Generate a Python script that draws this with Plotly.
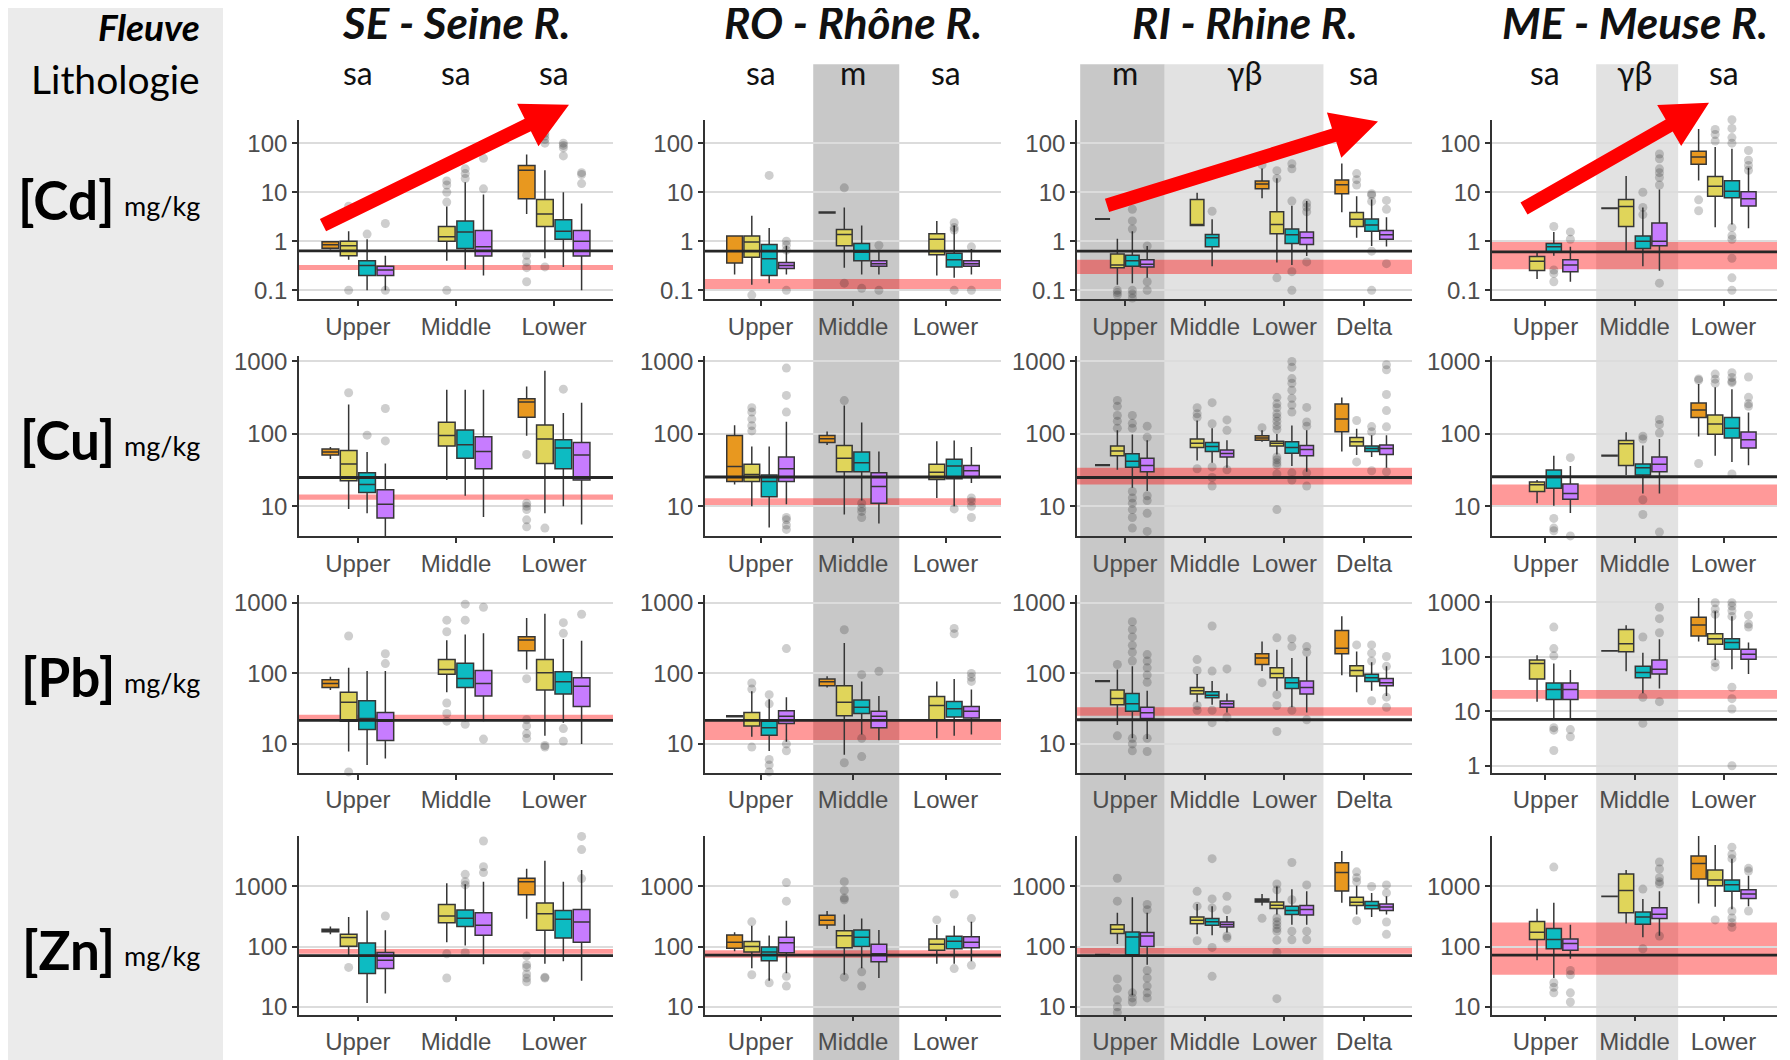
import plotly.graph_objects as go

W, H = 1790, 1060
OFF = 8  # the page body margin shifts the figure by this many pixels
FW, FH = W - OFF, H - OFF

# ---------------------------------------------------------------- data
RIVERS = ["SE - Seine R.", "RO - Rhône R.", "RI - Rhine R.", "ME - Meuse R."]
GROUPS_SE = ["Upper", "Middle", "Lower"]
GROUPS_RO = ["Upper", "Middle", "Lower"]
GROUPS_RI = ["Upper", "Middle", "Lower", "Delta"]
GROUPS_ME = ["Upper", "Middle", "Lower"]
ELEMENTS = ["[Cd]", "[Cu]", "[Pb]", "[Zn]"]
UNIT = "mg/kg"

# lithology label, centre position (category index)
LITHO_SE = [("sa", 0), ("sa", 1), ("sa", 2)]
LITHO_RO = [("sa", 0), ("m", 1), ("sa", 2)]
LITHO_RI = [("m", 0), ("γβ", 1.5), ("sa", 3)]
LITHO_ME = [("sa", 0), ("γβ", 1), ("sa", 2)]

# shaded lithology zones: (from, to, dark?)
ZONES_SE = []
ZONES_RO = [(0.57, 1.5, True)]
ZONES_RI = [(-0.56, 0.5, True), (0.5, 2.49, False)]
ZONES_ME = [(0.57, 1.49, False)]

# box records: (group, series, lower whisker, q1, median, q3, upper whisker, outliers)
SE_CD = [
    ("Upper", 0, 0.68, 0.72, 0.85, 0.98, 1.0, []),
    ("Upper", 1, 0.42, 0.51, 0.81, 1.0, 1.6, [0.1, 5.2]),
    ("Upper", 2, 0.1, 0.2, 0.32, 0.4, 1.1, [1.4]),
    ("Upper", 3, 0.1, 0.2, 0.26, 0.31, 0.51, [2.3, 0.1]),
    ("Middle", 1, 0.4, 1.0, 1.24, 2.0, 5.1, [17, 14, 10, 6.3, 0.1]),
    ("Middle", 2, 0.27, 0.71, 1.55, 2.6, 16, [30, 24, 19]),
    ("Middle", 3, 0.2, 0.5, 0.77, 1.66, 9, [11.7, 49]),
    ("Lower", 0, 3.6, 7.4, 28, 35, 59, [0.52, 0.38, 0.29, 0.15]),
    ("Lower", 1, 0.45, 2.0, 3.6, 7.1, 28, [100, 120, 140, 160, 0.3]),
    ("Lower", 2, 0.3, 1.1, 1.6, 2.75, 10, [100, 90, 80, 55]),
    ("Lower", 3, 0.1, 0.5, 1.0, 1.66, 5.9, [25, 23, 15]),
]
SE_CU = [
    ("Upper", 0, 45, 51, 56, 62, 66, []),
    ("Upper", 1, 9.2, 22.5, 38.5, 59, 254, [370]),
    ("Upper", 2, 8, 15.5, 20, 29, 56, [96]),
    ("Upper", 3, 2.6, 6.9, 10.7, 16.9, 39, [224, 80]),
    ("Middle", 1, 23, 68, 95, 145, 407, []),
    ("Middle", 2, 14, 46, 71, 113, 407, []),
    ("Middle", 3, 7.1, 33, 57, 91, 407, [1260]),
    ("Lower", 0, 94, 170, 276, 306, 450, [52, 11, 10, 9, 6.5, 5.2]),
    ("Lower", 1, 8, 39, 85, 133, 747, [5]),
    ("Lower", 2, 10, 33, 64, 83, 195, [415]),
    ("Lower", 3, 5.6, 23, 51, 76, 270, [1760]),
]
SE_PB = [
    ("Upper", 0, 58, 63, 72, 81, 90, []),
    ("Upper", 1, 7.8, 21, 39, 54, 120, [340, 4]),
    ("Upper", 2, 5, 16, 23, 41, 108, []),
    ("Upper", 3, 6.2, 11.2, 21, 28, 108, [190, 138]),
    ("Middle", 1, 54, 97, 114, 158, 295, [570, 390, 38, 27, 21]),
    ("Middle", 2, 21, 63, 85, 139, 357, [960, 570, 19]),
    ("Middle", 3, 21, 48, 72, 110, 370, [1480, 870, 11.7]),
    ("Lower", 0, 114, 209, 298, 332, 610, [84, 22, 18, 14, 12]),
    ("Lower", 1, 13, 58, 102, 158, 700, [1400, 9.5, 9]),
    ("Lower", 2, 20, 51, 76, 106, 307, [525, 370, 16.5, 10.9]),
    ("Lower", 3, 10, 34, 66, 87, 290, [690]),
]
SE_ZN = [
    ("Upper", 0, 160, 177, 186, 195, 215, []),
    ("Upper", 1, 69, 101, 142, 161, 310, [45]),
    ("Upper", 2, 11.5, 35.7, 71, 115, 400, []),
    ("Upper", 3, 16.6, 43, 59, 80, 187, [322]),
    ("Middle", 1, 118, 250, 322, 500, 1130, [76, 30]),
    ("Middle", 2, 104, 216, 295, 405, 1090, [1590, 1200, 1060, 80]),
    ("Middle", 3, 51, 155, 227, 366, 1200, [5700, 2130, 1700]),
    ("Lower", 0, 290, 730, 1200, 1370, 1970, [70, 50, 45, 35, 30, 26]),
    ("Lower", 1, 52, 187, 350, 533, 2670, [31, 30]),
    ("Lower", 2, 57, 139, 285, 400, 1200, []),
    ("Lower", 3, 27, 118, 257, 414, 1880, [9000, 6800, 4100, 1350]),
]

RO_CD = [
    ("Upper", 0, 0.21, 0.36, 0.63, 1.28, 1.28, []),
    ("Upper", 1, 0.13, 0.47, 0.97, 1.28, 3.3, [0.08]),
    ("Upper", 2, 0.14, 0.2, 0.44, 0.86, 1.86, [22]),
    ("Upper", 3, 0.21, 0.28, 0.32, 0.37, 0.81, [1.0, 0.83, 0.66, 0.1]),
    ("Middle", 0, 3.7, 3.75, 3.85, 3.95, 4.0, []),
    ("Middle", 1, 0.29, 0.81, 1.38, 1.74, 4.9, [12.3, 0.14]),
    ("Middle", 2, 0.21, 0.4, 0.6, 0.9, 2.1, [0.11]),
    ("Middle", 3, 0.21, 0.31, 0.35, 0.4, 0.66, [0.83, 0.1]),
    ("Lower", 1, 0.2, 0.53, 1.1, 1.42, 2.6, []),
    ("Lower", 2, 0.18, 0.3, 0.42, 0.57, 2.1, [2.4, 1.9, 1.7, 0.1]),
    ("Lower", 3, 0.21, 0.31, 0.35, 0.4, 0.7, [0.77, 0.1]),
]
RO_CU = [
    ("Upper", 0, 20, 22, 35.5, 95, 132, []),
    ("Upper", 1, 10, 22, 27.5, 38, 67, [230, 200, 160, 130, 110]),
    ("Upper", 2, 5.1, 13.6, 22, 27, 67, []),
    ("Upper", 3, 10.7, 22, 33, 48, 147, [810, 340, 200, 7, 6.5, 5.5, 4.8]),
    ("Middle", 0, 70, 76, 86, 95, 108, []),
    ("Middle", 1, 7.7, 30, 46, 69, 246, [288]),
    ("Middle", 2, 12, 30, 40, 56, 144, [11, 9.5, 8.5, 7]),
    ("Middle", 3, 5.8, 11, 18.7, 29, 57, []),
    ("Lower", 1, 13, 23.4, 29.6, 38, 79, []),
    ("Lower", 2, 10, 24, 36, 44.6, 81, [9.2]),
    ("Lower", 3, 21, 25, 31, 36.6, 66, [13, 11.7, 10, 7]),
]
RO_PB = [
    ("Upper", 0, 24, 24.2, 24.6, 25, 25.2, []),
    ("Upper", 1, 12.6, 18, 22, 28, 56, [73, 60, 9]),
    ("Upper", 2, 7.9, 13.3, 17, 21, 43, [50, 37, 6, 5, 4]),
    ("Upper", 3, 10.7, 19.5, 24.6, 29.5, 46, [225, 10, 8]),
    ("Middle", 0, 63, 67, 76, 83, 91, []),
    ("Middle", 1, 7, 25, 39, 67, 270, [417, 5.4]),
    ("Middle", 2, 13.6, 27, 33, 42, 77, [96, 12, 6.6]),
    ("Middle", 3, 11.3, 17, 24.6, 29, 48, [107]),
    ("Lower", 1, 12, 22, 35, 47, 77, []),
    ("Lower", 2, 13, 24, 31.5, 40, 83, [435, 365]),
    ("Lower", 3, 13.6, 23.4, 29, 34, 59, [100, 88, 77]),
]
RO_ZN = [
    ("Upper", 0, 84, 94, 118, 156, 173, []),
    ("Upper", 1, 43.6, 81, 100, 121, 222, [258, 34]),
    ("Upper", 2, 27, 58, 81, 98, 153, [25]),
    ("Upper", 3, 36, 79, 116, 143, 268, [1160, 570, 32, 22]),
    ("Middle", 0, 196, 228, 275, 331, 390, []),
    ("Middle", 1, 34, 96, 152, 183, 340, [1200, 860, 640, 600, 31]),
    ("Middle", 2, 43.6, 100, 143, 188, 292, [38, 22]),
    ("Middle", 3, 30, 56, 76, 109, 188, []),
    ("Lower", 1, 52, 87, 109, 134, 228, [278]),
    ("Lower", 2, 52, 92, 123, 149, 222, [750, 43]),
    ("Lower", 3, 57, 96, 118, 146, 258, [292, 49]),
]

RI_CD = [
    ("Upper", 0, 2.8, 2.8, 2.84, 2.88, 2.88, []),
    ("Upper", 1, 0.13, 0.29, 0.33, 0.55, 1.13, [0.1, 0.09, 0.08]),
    ("Upper", 2, 0.14, 0.31, 0.4, 0.52, 1.6, [7.7, 4.5, 2.6, 1.78, 0.1, 0.085, 0.07]),
    ("Upper", 3, 0.18, 0.3, 0.34, 0.42, 0.8, [0.8, 0.15, 0.1]),
    ("Middle", 1, 2.1, 2.1, 2.2, 7.1, 9.7, []),
    ("Middle", 2, 0.31, 0.77, 1.18, 1.38, 2.8, [4.1]),
    ("Lower", 0, 7.5, 11.8, 14.7, 17, 30.6, [36]),
    ("Lower", 1, 0.37, 1.42, 2.2, 4.0, 19.3, [27.5, 19, 0.18]),
    ("Lower", 2, 0.33, 0.9, 1.36, 1.78, 5.3, [38, 30, 6.6, 0.24, 0.1]),
    ("Lower", 3, 0.5, 0.86, 1.18, 1.54, 6.6, [6, 5, 4, 0.38]),
    ("Delta", 0, 3.9, 9.3, 14.2, 17.8, 38.6, []),
    ("Delta", 1, 1.18, 2.0, 2.8, 3.86, 8.3, [24, 18, 14]),
    ("Delta", 2, 0.8, 1.6, 2.15, 2.84, 7.1, [9.3, 8.7, 6.5, 0.63, 0.1]),
    ("Delta", 3, 0.78, 1.1, 1.36, 1.66, 3.1, [6.8, 4.5, 0.35]),
]
RI_CU = [
    ("Upper", 0, 36, 36.5, 37, 37.5, 38, []),
    ("Upper", 1, 32, 50, 58, 68, 112, [290, 240, 180, 150, 120]),
    ("Upper", 2, 18, 34.5, 42, 53, 98, [180, 140, 120, 16, 13, 11, 9, 7, 5]),
    ("Upper", 3, 16.3, 30, 36.5, 46, 82, [128, 90, 14, 12, 8, 4.5]),
    ("Middle", 1, 43, 65, 74, 85, 153, [230, 190, 170, 33]),
    ("Middle", 2, 40, 57, 66.7, 76, 120, [270, 138, 35, 25, 19]),
    ("Middle", 3, 34, 48, 53.5, 60, 82, [156, 112, 32]),
    ("Lower", 0, 78, 82, 88, 94, 112, [122]),
    ("Lower", 1, 52, 68, 74, 79, 100, [320, 260, 230, 190, 170, 150, 130, 115, 48, 44, 40, 37, 28, 9]),
    ("Lower", 2, 36, 54, 65, 78, 131, [1000, 830, 580, 500, 400, 310, 250, 200, 29, 23]),
    ("Lower", 3, 30, 50, 61, 69, 112, [232, 146, 128, 29, 19]),
    ("Delta", 0, 57, 107, 161, 258, 318, []),
    ("Delta", 1, 51, 68, 78, 89, 118, [153, 41]),
    ("Delta", 2, 48, 57, 63, 68, 96, [126, 107, 31]),
    ("Delta", 3, 34, 52, 63, 70, 96, [900, 770, 350, 210, 125, 30]),
]
RI_PB = [
    ("Upper", 0, 76, 77, 78, 79, 80, []),
    ("Upper", 1, 18.5, 36, 44, 58, 114, [134, 13]),
    ("Upper", 2, 12, 29, 37, 52, 126, [540, 420, 330, 250, 200, 150, 12, 10, 8]),
    ("Upper", 3, 11.7, 23, 27.7, 33, 57, [185, 150, 120, 95, 75, 12, 7.8]),
    ("Middle", 1, 39, 51, 57, 63, 98, [157, 110, 35, 30]),
    ("Middle", 2, 36, 45, 49, 55, 78, [470, 108, 30, 20]),
    ("Middle", 3, 28, 33, 37, 40.5, 52, [116, 24]),
    ("Lower", 0, 108, 134, 166, 190, 283, [74]),
    ("Lower", 1, 57, 87, 100, 120, 216, [320, 50, 35, 15]),
    ("Lower", 2, 33, 61, 74, 87, 166, [310, 240, 30]),
    ("Lower", 3, 28, 51, 63, 78, 174, [240, 200, 22]),
    ("Delta", 0, 94, 190, 228, 407, 650, []),
    ("Delta", 1, 54, 92, 110, 129, 205, [254]),
    ("Delta", 2, 57, 77, 87, 97, 144, [254, 194, 150, 41]),
    ("Delta", 3, 48, 67, 74, 85, 126, [174, 126, 46, 33]),
]
RI_ZN = [
    ("Upper", 0, 72, 72.5, 73, 73.5, 74, []),
    ("Upper", 1, 110, 165, 194, 231, 365, [1370, 570, 29, 20, 13, 10, 8]),
    ("Upper", 2, 15.5, 73, 145, 175, 660, [17, 14, 12]),
    ("Upper", 3, 50, 100, 150, 171, 365, [500, 410, 40, 30, 22, 17, 14]),
    ("Middle", 1, 160, 240, 273, 310, 512, [830, 470, 125]),
    ("Middle", 2, 155, 226, 258, 294, 470, [2900, 620, 440, 97, 32]),
    ("Middle", 3, 171, 212, 234, 256, 322, [685, 410, 150, 138]),
    ("Lower", 0, 480, 550, 585, 620, 750, [295]),
    ("Lower", 1, 340, 430, 487, 550, 1000, [1100, 880, 300, 260, 230, 200, 180, 128, 80, 13.6]),
    ("Lower", 2, 230, 343, 400, 470, 900, [2500, 600, 180, 130]),
    ("Lower", 3, 230, 334, 414, 480, 830, [1060, 180, 130]),
    ("Delta", 0, 535, 840, 1700, 2480, 3900, []),
    ("Delta", 1, 343, 480, 545, 660, 1025, [1750, 1400, 1200, 270]),
    ("Delta", 2, 310, 425, 480, 560, 780, [1000]),
    ("Delta", 3, 343, 400, 457, 512, 685, [1060, 780, 256, 160]),
]

ME_CD = [
    ("Upper", 1, 0.17, 0.255, 0.39, 0.49, 0.6, []),
    ("Upper", 2, 0.51, 0.61, 0.77, 0.9, 1.54, [2.0, 0.26, 0.22, 0.15]),
    ("Upper", 3, 0.15, 0.24, 0.33, 0.42, 0.77, [1.55, 1.1]),
    ("Middle", 0, 4.6, 4.65, 4.7, 4.75, 4.8, []),
    ("Middle", 1, 0.64, 2.0, 5.1, 7.1, 21.5, []),
    ("Middle", 2, 0.31, 0.71, 1.0, 1.28, 4.9, [10, 4.9, 3.5]),
    ("Middle", 3, 0.25, 0.81, 1.0, 2.36, 11.3, [60, 48, 30, 25, 20, 14, 0.14]),
    ("Lower", 0, 17.4, 37, 52.5, 68, 194, [7, 4.2]),
    ("Lower", 1, 1.94, 8.3, 13.2, 21, 83, [710, 190, 150, 110]),
    ("Lower", 2, 2.2, 7.7, 10.5, 17.1, 77, [450, 300, 200, 130, 100, 1.9, 1.3, 1.1, 0.45, 0.18, 0.1]),
    ("Lower", 3, 1.85, 5.25, 7.4, 10.2, 31.6, [71, 45, 35, 28]),
]
ME_CU = [
    ("Upper", 1, 11, 16, 19.9, 21.7, 23, []),
    ("Upper", 2, 10.2, 17.8, 25, 31.6, 50, [6.8, 5, 4.6]),
    ("Upper", 3, 8.1, 12.5, 15, 20.4, 36, [47, 3.9]),
    ("Middle", 0, 49, 49.5, 50, 50.5, 51, []),
    ("Middle", 1, 27, 36.6, 73, 81, 105, []),
    ("Middle", 2, 15, 27, 34, 38.5, 69, [93, 85, 12.3, 7.7]),
    ("Middle", 3, 15, 30, 38, 48, 85, [158, 135, 103, 4.4]),
    ("Lower", 0, 92, 169, 213, 268, 490, [575, 550, 39]),
    ("Lower", 1, 50, 99, 137, 182, 440, [670, 570, 500]),
    ("Lower", 2, 41, 88, 120, 169, 412, [700, 600, 530, 510, 28]),
    ("Lower", 3, 37, 64, 83, 106, 197, [610, 320, 260, 240]),
]
ME_PB = [
    ("Upper", 1, 15, 39, 75, 87, 107, []),
    ("Upper", 2, 7.3, 16.4, 25, 33, 75, [350, 141, 104, 5, 4.5, 1.9]),
    ("Upper", 3, 7.1, 16.4, 25, 33, 57, [4.6, 3.4]),
    ("Middle", 0, 126, 127, 128, 129, 130, []),
    ("Middle", 1, 54, 123, 174, 318, 380, []),
    ("Middle", 2, 21.4, 41, 51.6, 66.7, 119, [230, 18, 6]),
    ("Middle", 3, 26, 48, 59, 87, 209, [810, 500, 276, 15]),
    ("Lower", 0, 190, 240, 381, 533, 1200, []),
    ("Lower", 1, 87, 169, 215, 265, 686, [980, 750, 600, 78, 65]),
    ("Lower", 2, 59, 137, 182, 215, 555, [980, 850, 700, 550, 27.5, 17, 11, 1]),
    ("Lower", 3, 48, 90, 111, 137, 182, [580, 400, 350]),
]
ME_ZN = [
    ("Upper", 1, 59, 131, 173, 261, 426, []),
    ("Upper", 2, 30, 92, 131, 200, 535, [2100, 25, 21, 17]),
    ("Upper", 3, 63, 87, 112, 134, 230, [40, 34, 17, 12]),
    ("Middle", 0, 680, 683, 686, 690, 693, []),
    ("Middle", 1, 242, 366, 860, 1610, 1870, []),
    ("Middle", 2, 143, 236, 311, 376, 620, [905, 92]),
    ("Middle", 3, 152, 292, 344, 442, 830, [2550, 1950, 1400, 1200, 1100, 150]),
    ("Lower", 0, 520, 1335, 2400, 3220, 10500, []),
    ("Lower", 1, 460, 1025, 1285, 1870, 4900, [8950, 278]),
    ("Lower", 2, 416, 830, 1065, 1285, 2900, [4500, 3400, 2900, 390, 300, 250, 210]),
    ("Lower", 3, 470, 630, 750, 880, 1510, [2000, 1800, 390]),
]

# reference values per row: (black line, red band low, red band high)
REF_SE = [(0.64, 0.26, 0.33), (25, 12.3, 14.5), (21.5, 22, 26), (71, 76, 91)]
REF_RO = [(0.63, 0.1, 0.17), (25.4, 10, 12.9), (21.5, 11.4, 21.5), (72, 65, 87)]
REF_RI = [(0.63, 0.215, 0.42), (25, 20, 34), (22, 25, 33), (71, 76, 100)]
REF_ME = [(0.61, 0.27, 1.0), (25.6, 10, 20), (7.1, 17, 24.5), (72, 34, 252)]

# ---------------------------------------------------------------- style / layout
COLORS = ["#E8981F", "#E0D55A", "#0DBBC2", "#C77CFF"]
OFFSETS = [-0.28, -0.094, 0.094, 0.28]
BOX_W = 0.17

COL_PX = [(299, 613), (705, 1001), (1077, 1412), (1492, 1777)]
ROW_PX = [(113, 295), (353, 535), (595, 775), (839, 1020)]
Y_RANGE = [[-1.18, 2.48], [0.59, 3.07], [0.59, 3.11], [0.87, 3.84]]
Y_TICKS = [[0.1, 1, 10, 100], [10, 100, 1000], [10, 100, 1000], [10, 100, 1000]]

columns = [
    (GROUPS_SE, LITHO_SE, ZONES_SE, [SE_CD, SE_CU, SE_PB, SE_ZN], REF_SE),
    (GROUPS_RO, LITHO_RO, ZONES_RO, [RO_CD, RO_CU, RO_PB, RO_ZN], REF_RO),
    (GROUPS_RI, LITHO_RI, ZONES_RI, [RI_CD, RI_CU, RI_PB, RI_ZN], REF_RI),
    (GROUPS_ME, LITHO_ME, ZONES_ME, [ME_CD, ME_CU, ME_PB, ME_ZN], REF_ME),
]

TICK_FONT = dict(family="Liberation Sans, Arial, sans-serif", size=24, color="#4d4d4d")
LABEL_FONT = "Lato, Open Sans, sans-serif"


def fx(x):
    return (x - OFF) / FW


def fy(y):
    return 1 - (y - OFF) / FH


def arrow_path(x0, y0, x1, y1, w=7, hl=46, hw=24):
    dx, dy = x1 - x0, y1 - y0
    n = (dx * dx + dy * dy) ** 0.5
    ux, uy = dx / n, dy / n
    nx, ny = -uy, ux
    bx, by = x1 - ux * hl, y1 - uy * hl
    pts = [(x0 + nx * w, y0 + ny * w), (bx + nx * w, by + ny * w),
           (bx + nx * hw, by + ny * hw), (x1, y1),
           (bx - nx * hw, by - ny * hw), (bx - nx * w, by - ny * w),
           (x0 - nx * w, y0 - ny * w)]
    return "M " + " L ".join(f"{fx(a):.5f},{fy(b):.5f}" for a, b in pts) + " Z"


# red trend arrows (tail x, tail y, tip x, tip y) in pixels
ARROWS = [(323, 220, 569, 98), (1107, 200, 1378, 115), (1524, 203, 1709, 96)]

fig = go.Figure()
shapes = []
annotations = []
layout = {}

# left label panel
shapes.append(dict(type="rect", xref="paper", yref="paper", x0=-0.01, x1=fx(223), y0=-0.01, y1=1.01,
                   fillcolor="#ebebeb", line_width=0, layer="below"))

for c, (groups, litho, zones, panels, refs) in enumerate(columns):
    gidx = {g: i for i, g in enumerate(groups)}
    xr = [-0.6, len(groups) - 0.4]
    top_ref = "x" if c == 0 else f"x{c + 1}"

    for lo, hi, dark in zones:
        shapes.append(dict(type="rect", xref=top_ref, yref="paper", x0=lo, x1=hi,
                           y0=-0.01, y1=fy(57), fillcolor="#c8c8c8" if dark else "#e2e2e2",
                           line_width=0, layer="below"))
    for txt, pos in litho:
        annotations.append(dict(text=txt, x=pos, xref=top_ref, y=fy(65), yref="paper",
                                xanchor="center", yanchor="middle", showarrow=False,
                                font=dict(family=LABEL_FONT, size=32, color="#111")))
    cx = (COL_PX[c][0] + COL_PX[c][1]) / 2
    annotations.append(dict(text=f"<b><i>{RIVERS[c]}</i></b>", x=fx(cx), y=fy(14),
                            xref="paper", yref="paper", xanchor="center", yanchor="middle",
                            showarrow=False,
                            font=dict(family=LABEL_FONT, size=44, color="#111")))

    for r in range(4):
        p = r * 4 + c + 1
        xa = "xaxis" if p == 1 else f"xaxis{p}"
        ya = "yaxis" if p == 1 else f"yaxis{p}"
        xs = "x" if p == 1 else f"x{p}"
        ys = "y" if p == 1 else f"y{p}"
        yrng = Y_RANGE[r]
        yt = Y_TICKS[r]
        if c == 3 and r == 2:
            yrng = [-0.13, 3.13]
            yt = [1, 10, 100, 1000]

        layout[xa] = dict(domain=[fx(COL_PX[c][0]), fx(COL_PX[c][1])], range=xr, anchor=ys,
                          tickvals=list(range(len(groups))), ticktext=groups,
                          showline=True, linecolor="#333", linewidth=1.6, ticks="outside",
                          ticklen=5, tickwidth=1.6, tickcolor="#333", showgrid=False,
                          zeroline=False, tickfont=TICK_FONT, fixedrange=True)
        layout[ya] = dict(domain=[fy(ROW_PX[r][1]), fy(ROW_PX[r][0])], type="log",
                          range=yrng, anchor=xs, tickvals=yt, ticktext=[f"{v:g}" for v in yt],
                          showline=True, linecolor="#333", linewidth=1.6, ticks="outside",
                          ticklen=5, tickwidth=1.6, tickcolor="#333", showgrid=True,
                          gridcolor="#dcdcdc", gridwidth=1.5, zeroline=False,
                          tickfont=TICK_FONT, fixedrange=True)

        ox, oy = [], []
        for g, s, lo_w, q1, med, q3, hi_w, outs in panels[r]:
            xpos = gidx[g] + OFFSETS[s]
            fig.add_trace(go.Box(x=[xpos], q1=[q1], median=[med], q3=[q3],
                                 lowerfence=[lo_w], upperfence=[hi_w], width=BOX_W,
                                 fillcolor=COLORS[s], line=dict(color="#363636", width=1.5),
                                 whiskerwidth=0, boxpoints=False, showlegend=False,
                                 hoverinfo="skip", xaxis=xs, yaxis=ys))
            for v in outs:
                ox.append(xpos)
                oy.append(v)
        fig.add_trace(go.Scatter(x=ox, y=oy, mode="markers", cliponaxis=False,
                                 marker=dict(size=9, color="rgba(30,30,30,0.22)", line_width=0),
                                 showlegend=False, hoverinfo="skip", xaxis=xs, yaxis=ys))

        black, b_lo, b_hi = refs[r]
        shapes.append(dict(type="rect", xref=xs, yref=ys, x0=xr[0], x1=xr[1],
                           y0=b_lo, y1=b_hi, fillcolor="rgba(255,0,0,0.4)", line_width=0,
                           layer="below"))
        shapes.append(dict(type="line", xref=xs, yref=ys, x0=xr[0], x1=xr[1],
                           y0=black, y1=black, line=dict(color="#262626", width=2.8),
                           layer="above"))

# row labels
ROW_Y = [194, 437, 677, 954]
for r, el in enumerate(ELEMENTS):
    annotations.append(dict(text=f"<b>{el}</b>", x=fx(117), y=fy(ROW_Y[r]),
                            xref="paper", yref="paper", xanchor="right", yanchor="middle",
                            showarrow=False, font=dict(family=LABEL_FONT, size=53, color="#000")))
    annotations.append(dict(text=UNIT, x=fx(202), y=fy(ROW_Y[r] + 6),
                            xref="paper", yref="paper", xanchor="right", yanchor="middle",
                            showarrow=False, font=dict(family=LABEL_FONT, size=27, color="#000")))
annotations.append(dict(text="<b><i>Fleuve</i></b>", x=fx(202), y=fy(19), xref="paper",
                        yref="paper", xanchor="right", yanchor="middle", showarrow=False,
                        font=dict(family=LABEL_FONT, size=37, color="#000")))
annotations.append(dict(text="Lithologie", x=fx(202), y=fy(72), xref="paper",
                        yref="paper", xanchor="right", yanchor="middle", showarrow=False,
                        font=dict(family=LABEL_FONT, size=39, color="#000")))

for a in ARROWS:
    shapes.append(dict(type="path", xref="paper", yref="paper", path=arrow_path(*a),
                       fillcolor="#ff0000", line_width=0, layer="above"))

fig.update_layout(width=FW, height=FH, margin=dict(l=0, r=0, t=0, b=0),
                  paper_bgcolor="white", plot_bgcolor="rgba(0,0,0,0)",
                  boxmode="overlay", shapes=shapes, annotations=annotations, **layout)

fig.write_html("out.html")
